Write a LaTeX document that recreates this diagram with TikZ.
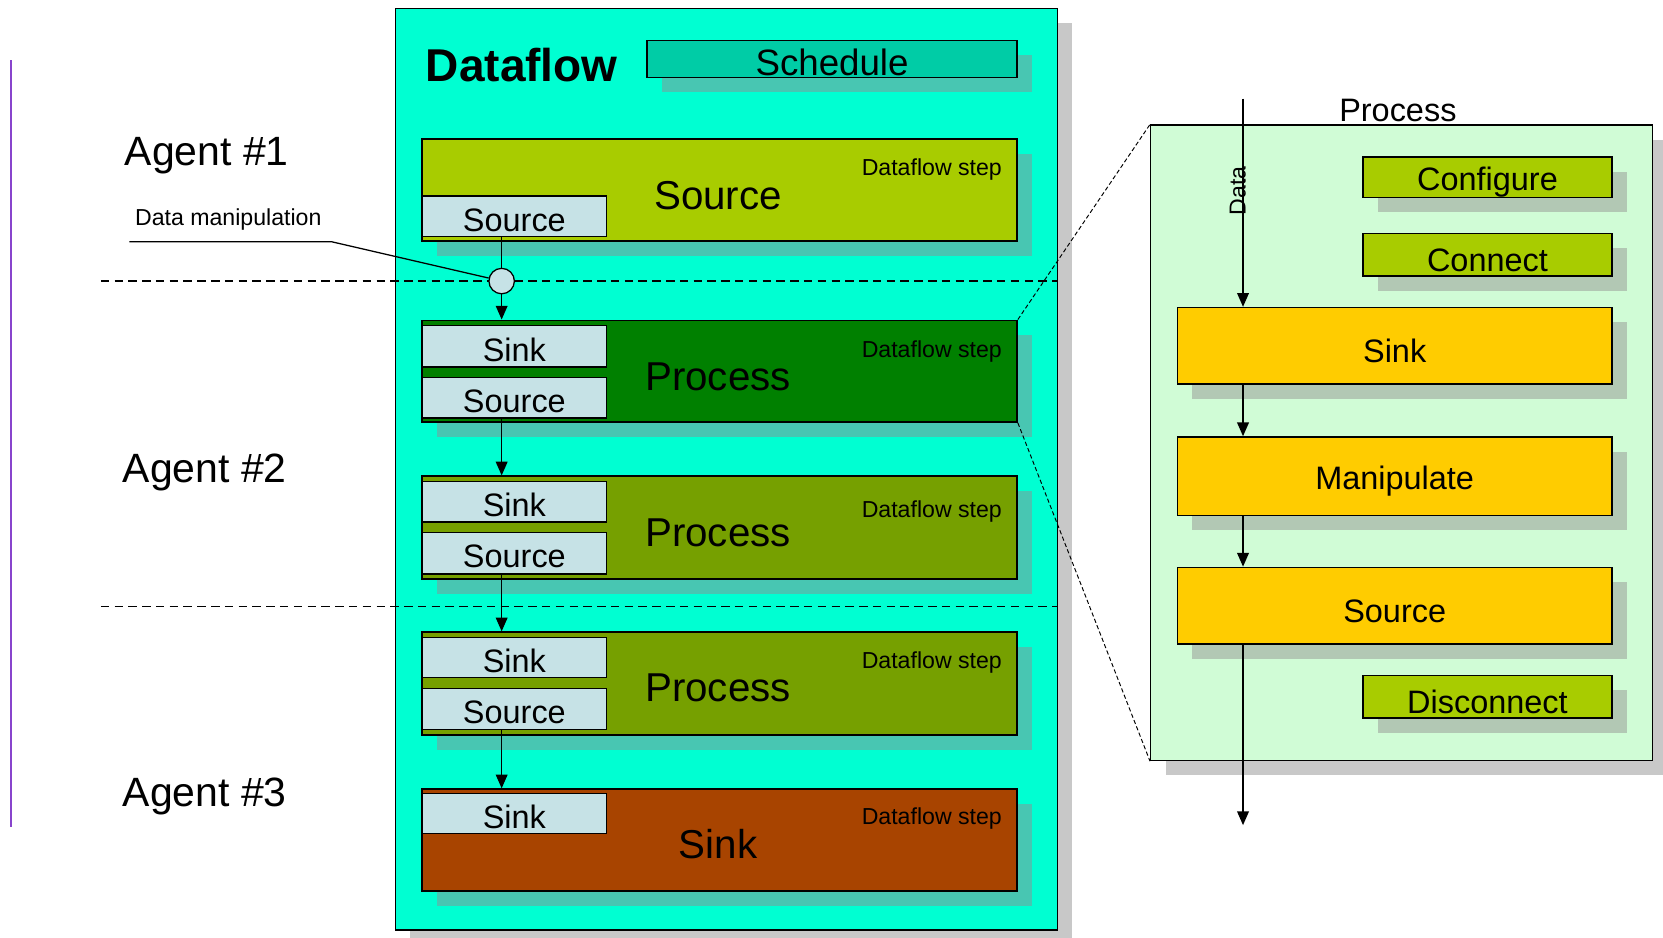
\documentclass[tikz,border=0pt]{standalone}
\usepackage{fontspec}
\setmainfont{Liberation Sans}
\usetikzlibrary{fit,shadows,arrows.meta,calc}

% palette
\definecolor{flowbg}{HTML}{00FFD2}
\definecolor{schedfill}{HTML}{00CCA6}
\definecolor{stepshadow}{HTML}{48C6B2}
\definecolor{srcstep}{HTML}{A8CC00}
\definecolor{procdark}{HTML}{008000}
\definecolor{procolive}{HTML}{76A000}
\definecolor{sinkstep}{HTML}{A84400}
\definecolor{portfill}{HTML}{C6E2E6}
\definecolor{panelbg}{HTML}{D0FCD6}
\definecolor{greyshadow}{HTML}{C8C8C8}
\definecolor{innershadow}{HTML}{B2C8B4}
\definecolor{phasefill}{HTML}{FFCC00}
\definecolor{agentline}{HTML}{8844CC}

% type sizes
\newcommand{\fsTitle}{\fontsize{21.7}{26}\selectfont\bfseries}
\newcommand{\fsSched}{\fontsize{17.3}{21}\selectfont}
\newcommand{\fsBig}{\fontsize{19}{23}\selectfont}
\newcommand{\fsAgent}{\fontsize{19.3}{23}\selectfont}
\newcommand{\fsMid}{\fontsize{15.3}{18}\selectfont}
\newcommand{\fsSmall}{\fontsize{10.9}{13}\selectfont}

\begin{document}
\begin{tikzpicture}[x=0.5pt,y=-0.5pt,
  box/.style={draw=black, line width=0.7pt, inner sep=0pt, rectangle},
  tealshadow/.style={general shadow={fill=stepshadow, shadow xshift=7pt, shadow yshift=-7pt}},
  greyshade/.style={general shadow={fill=greyshadow, shadow xshift=7pt, shadow yshift=-7pt}},
  innershade/.style={general shadow={fill=innershadow, shadow xshift=7pt, shadow yshift=-7pt}},
  stepbox/.style={box, tealshadow, font=\fsBig},
  portbox/.style={box, fill=portfill, font=\fsMid},
  phasebox/.style={box, innershade, font=\fsMid},
  steptag/.style={font=\fsSmall, anchor=east, inner sep=0pt},
  agent/.style={font=\fsAgent},
  wire/.style={line width=0.75pt},
  arr/.style={wire, -{Triangle[width=5.5pt,length=6.5pt]}},
  boundary/.style={line width=0.6pt, dash pattern=on 4pt off 2.5pt},
  zoomline/.style={line width=0.45pt, dash pattern=on 2pt off 1.2pt}
]
\useasboundingbox (0,0) rectangle (1568,884);

% agent timeline on the left
\coordinate (lt) at (10,57);
\coordinate (lb) at (10,780);
\draw[agentline, line width=0.9pt] (lt) -- (lb);

% dataflow container
\node[box, fill=flowbg, greyshade, fit={(373,8)(997,877)}] (flow) {};
\node[font=\fsTitle] (title) at (492,61) {Dataflow};
\node[box, fill=schedfill, tealshadow, font=\fsSched, fit={(610,38)(959,73)}] (sched) {};
\node[font=\fsSched] at ($(sched.center)+(0,3)$) {Schedule};

% dataflow steps
\node[stepbox, fill=srcstep,   fit={(398,131)(959,227)}] (st1) {};
\node[stepbox, fill=procdark,  fit={(398,302)(959,398)}] (st2) {};
\node[stepbox, fill=procolive, fit={(398,449)(959,546)}] (st3) {};
\node[stepbox, fill=procolive, fit={(398,596)(959,693)}] (st4) {};
\node[stepbox, fill=sinkstep,  fit={(398,744)(959,840)}] (st5) {};

\node[font=\fsBig] at (677,184) {Source};
\node[font=\fsBig] at (677,355) {Process};
\node[font=\fsBig] at (677,502) {Process};
\node[font=\fsBig] at (677,649) {Process};
\node[font=\fsBig] at (677,796) {Sink};

\node[steptag] (tag1) at (945,160) {Dataflow step};
\node[steptag] (tag2) at (945,331) {Dataflow step};
\node[steptag] (tag3) at (945,482) {Dataflow step};
\node[steptag] (tag4) at (945,625) {Dataflow step};
\node[steptag] (tag5) at (945,772) {Dataflow step};

% ports
\node[portbox, fit={(398,185)(572,223)}] (src1) {};
\node[portbox, fit={(398,307)(572,346)}] (snk2) {};
\node[portbox, fit={(398,356)(572,394)}] (src2) {};
\node[portbox, fit={(398,454)(572,492)}] (snk3) {};
\node[portbox, fit={(398,502)(572,541)}] (src3) {};
\node[portbox, fit={(398,601)(572,639)}] (snk4) {};
\node[portbox, fit={(398,649)(572,688)}] (src4) {};
\node[portbox, fit={(398,748)(572,786)}] (snk5) {};
\foreach \p/\t in {src1/Source, snk2/Sink, src2/Source, snk3/Sink, src3/Source, snk4/Sink, src4/Source, snk5/Sink}
  \node[font=\fsMid] at ($(\p.center)+(0,3.5)$) {\t};

% agent boundaries
\coordinate (b1l) at (95,265);
\coordinate (b1r) at (997,265);
\coordinate (b2l) at (95,572);
\coordinate (b2r) at (997,572);
\draw[boundary] (b1l) -- (b1r);
\draw[boundary] (b2l) -- (b2r);

% data manipulation point
\node[circle, draw=black, line width=0.6pt, fill=portfill, minimum size=12pt, inner sep=0pt] (dm) at (473,265) {};
\node[font=\fsSmall, anchor=west, inner sep=0pt] (dmlabel) at (127,207) {Data manipulation};
\coordinate (dmu) at (122,228);
\coordinate (dmk) at (313,228);
\draw[line width=0.6pt] (dmu) -- (dmk) -- (dm);

% data flow between steps
\draw[wire] (dm |- src1.south) -- (dm.north);
\draw[arr] (dm.south) -- (dm |- st2.north);
\draw[arr] (dm |- src2.south) -- (dm |- st3.north);
\draw[arr] (dm |- src3.south) -- (dm |- st4.north);
\draw[arr] (dm |- src4.south) -- (dm |- st5.north);

% agent labels
\node[agent] (ag1) at (195,147) {Agent \#1};
\node[agent] (ag2) at (193,445) {Agent \#2};
\node[agent] (ag3) at (193,751) {Agent \#3};

% detail of a process step
\node[box, fill=panelbg, greyshade, fit={(1085,118)(1558,717)}] (panel) {};
\node[font=\fsMid] (ptitle) at (1318,104) {Process};
\draw[zoomline] (st2.north east) -- (panel.north west);
\draw[zoomline] (st2.south east) -- (panel.south west);

\node[phasebox, fill=srcstep,   fit={(1285,148)(1520,186)}] (cfg) {};
\node[phasebox, fill=srcstep,   fit={(1285,220)(1520,260)}] (con) {};
\node[phasebox, fill=phasefill, fit={(1110,290)(1520,362)}] (rsink) {};
\node[phasebox, fill=phasefill, fit={(1110,412)(1520,486)}] (rman) {};
\node[phasebox, fill=phasefill, fit={(1110,535)(1520,607)}] (rsrc) {};
\node[phasebox, fill=srcstep,   fit={(1285,637)(1520,677)}] (dis) {};
\foreach \p/\t in {cfg/Configure, con/Connect, rsink/Sink, rman/Manipulate, rsrc/Source, dis/Disconnect}
  \node[font=\fsMid] at ($(\p.center)+(0,5)$) {\t};

\coordinate (din) at (1172,93);
\coordinate (dout) at (1172,778);
\draw[arr] (din) -- (din |- rsink.north);
\draw[arr] (din |- rsink.south) -- (din |- rman.north);
\draw[arr] (din |- rman.south) -- (din |- rsrc.north);
\draw[arr] (din |- rsrc.south) -- (dout);
\node[font=\fsSmall, rotate=90] (dlabel) at (1167,180) {Data};

\end{tikzpicture}
\end{document}
